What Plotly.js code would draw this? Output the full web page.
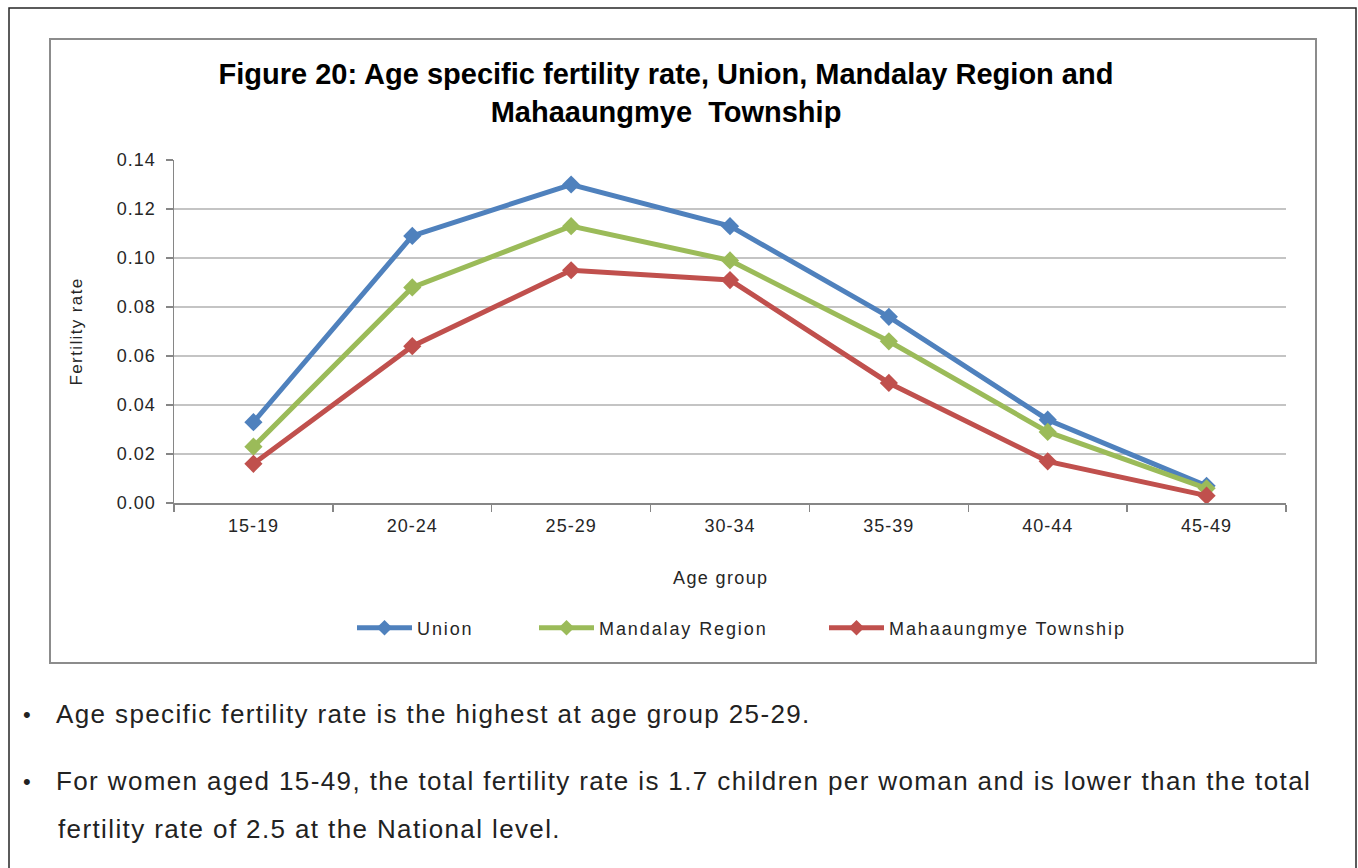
<!DOCTYPE html>
<html>
<head>
<meta charset="utf-8">
<script src="https://cdn.plot.ly/plotly-3.0.1.min.js"></script>
<style>
  html, body { margin: 0; padding: 0; background: #ffffff; }
  #chart { width: 1358px; height: 868px; }
  .xtick text, .ytick text { letter-spacing: 1px; }
  text.legendtext, .legendtext, g[class^="legend"] text { letter-spacing: 1.9px !important; }
  .annotation-text { letter-spacing: 1.38px; }
</style>
</head>
<body>
<div id="chart"></div>
<script>
// ---- Data ----
const categories = ['15-19', '20-24', '25-29', '30-34', '35-39', '40-44', '45-49'];
const unionValues = [0.033, 0.109, 0.130, 0.113, 0.076, 0.034, 0.007];
const mandalayValues = [0.023, 0.088, 0.113, 0.099, 0.066, 0.029, 0.006];
const mahaaungmyeValues = [0.016, 0.064, 0.095, 0.091, 0.049, 0.017, 0.003];
const seriesNames = ['Union', 'Mandalay Region', 'Mahaaungmye Township'];
const yTickValues = [0, 0.02, 0.04, 0.06, 0.08, 0.10, 0.12, 0.14];

const titleText = 'Figure 20: Age specific fertility rate, Union, Mandalay Region and<br>Mahaaungmye\u00A0 Township';
const xTitle = 'Age group';
const yTitle = 'Fertility rate';
const bodyLines = [
  'Age specific fertility rate is the highest at age group 25-29.',
  'For women aged 15-49, the total fertility rate is 1.7 children per woman and is lower than the total',
  'fertility rate of 2.5 at the National level.'
];

// ---- Layout helpers (pixel -> paper) ----
const L = 174, R = 1286, T = 160, B = 503;
const W = R - L, H = B - T;
const px = x => (x - L) / W;
const py = y => (B - y) / H;

const colors = ['#4f81bd', '#9bbb59', '#c0504d'];
const allValues = [unionValues, mandalayValues, mahaaungmyeValues];
const legendIds = ['legend', 'legend2', 'legend3'];

const traces = allValues.map((vals, i) => ({
  type: 'scatter',
  mode: 'lines+markers',
  x: categories,
  y: vals,
  name: seriesNames[i],
  legend: legendIds[i],
  line: { color: colors[i], width: 5 },
  marker: { symbol: 'diamond', size: 14, color: colors[i] },
  hoverinfo: 'x+y+name'
}));

const tickFont = { family: 'Liberation Sans, Arial, sans-serif', size: 18, color: '#262626' };
const legendBase = {
  orientation: 'h',
  yref: 'paper', y: py(628), yanchor: 'middle',
  xanchor: 'left',
  bgcolor: 'rgba(0,0,0,0)',
  borderwidth: 0,
  itemsizing: 'constant',
  entrywidthmode: 'pixels',
  entrywidth: 300,
  font: { family: 'Liberation Sans, Arial, sans-serif', size: 18, color: '#262626' },
  itemwidth: 55
};

const layout = {
  width: 1358,
  height: 868,
  paper_bgcolor: '#ffffff',
  plot_bgcolor: '#ffffff',
  margin: { l: L, r: 1358 - R, t: T, b: 868 - B, pad: 0 },
  showlegend: true,
  title: {
    text: titleText,
    xref: 'container', x: 666 / 1358, xanchor: 'center',
    yref: 'container', y: 1 - 84 / 868, yanchor: 'middle',
    font: { family: 'Liberation Sans, Arial, sans-serif', size: 29, weight: 'bold', color: '#000000' }
  },
  xaxis: {
    type: 'category',
    range: [-0.5, 6.5],
    tickson: 'boundaries',
    ticks: 'outside',
    ticklen: 7,
    tickwidth: 1.5,
    tickcolor: '#868686',
    showline: true,
    linecolor: '#868686',
    linewidth: 1.5,
    showgrid: false,
    zeroline: false,
    tickfont: tickFont,
    ticklabelstandoff: 6,
    fixedrange: true
  },
  yaxis: {
    range: [0, 0.14],
    tickvals: yTickValues,
    tickformat: '.2f',
    ticks: 'outside',
    ticklen: 7,
    tickwidth: 1.5,
    tickcolor: '#868686',
    showline: true,
    linecolor: '#868686',
    linewidth: 1.5,
    showgrid: true,
    gridcolor: '#c4c4c4',
    gridwidth: 1.5,
    zeroline: false,
    tickfont: tickFont,
    ticklabelstandoff: 6,
    fixedrange: true
  },
  legend: Object.assign({}, legendBase, { x: px(352) }),
  legend2: Object.assign({}, legendBase, { x: px(534) }),
  legend3: Object.assign({}, legendBase, { x: px(824) }),
  shapes: [
    { type: 'rect', xref: 'paper', yref: 'paper', layer: 'below',
      x0: px(9), x1: px(1356), y0: py(900), y1: py(8),
      line: { color: '#262626', width: 1.5 }, fillcolor: 'rgba(0,0,0,0)' },
    { type: 'rect', xref: 'paper', yref: 'paper', layer: 'below',
      x0: px(50), x1: px(1316), y0: py(663), y1: py(39),
      line: { color: '#8c8c8c', width: 2 }, fillcolor: 'rgba(0,0,0,0)' }
  ],
  annotations: [
    { text: yTitle, xref: 'paper', yref: 'paper', x: px(76), y: 0.5, textangle: -90,
      xanchor: 'center', yanchor: 'middle', showarrow: false,
      font: { family: 'Liberation Sans, Arial, sans-serif', size: 17, color: '#262626' } },
    { text: xTitle, xref: 'paper', yref: 'paper', x: px(721), y: py(578),
      xanchor: 'center', yanchor: 'middle', showarrow: false,
      font: { family: 'Liberation Sans, Arial, sans-serif', size: 18, color: '#262626' } },
    { text: '\u2022', xref: 'paper', yref: 'paper', x: px(27), y: py(714),
      xanchor: 'center', yanchor: 'middle', showarrow: false,
      font: { family: 'Liberation Sans, Arial, sans-serif', size: 22, color: '#222222' } },
    { text: bodyLines[0], xref: 'paper', yref: 'paper', x: px(54), y: py(714),
      xanchor: 'left', yanchor: 'middle', showarrow: false,
      font: { family: 'Liberation Sans, Arial, sans-serif', size: 26, color: '#222222' } },
    { text: '\u2022', xref: 'paper', yref: 'paper', x: px(27), y: py(781),
      xanchor: 'center', yanchor: 'middle', showarrow: false,
      font: { family: 'Liberation Sans, Arial, sans-serif', size: 22, color: '#222222' } },
    { text: bodyLines[1], xref: 'paper', yref: 'paper', x: px(54), y: py(781),
      xanchor: 'left', yanchor: 'middle', showarrow: false,
      font: { family: 'Liberation Sans, Arial, sans-serif', size: 26, color: '#222222' } },
    { text: bodyLines[2], xref: 'paper', yref: 'paper', x: px(56), y: py(829),
      xanchor: 'left', yanchor: 'middle', showarrow: false,
      font: { family: 'Liberation Sans, Arial, sans-serif', size: 26, color: '#222222' } }
  ]
};

Plotly.newPlot('chart', traces, layout, { staticPlot: true, displayModeBar: false });
</script>
</body>
</html>
